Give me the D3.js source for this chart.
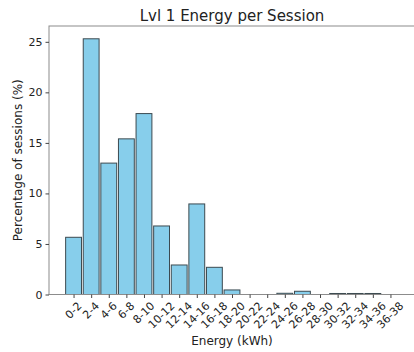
<!DOCTYPE html>
<html>
<head>
<meta charset="utf-8">
<script src="https://cdn.jsdelivr.net/npm/d3@7.9.0/dist/d3.min.js"></script>
<style>
  body { margin: 0; background: #fff; }
  svg { display: block; font-family: "DejaVu Sans", sans-serif; }
</style>
</head>
<body>
<svg width="414" height="352"></svg>
<script>
const bins = ['0-2', '2-4', '4-6', '6-8', '8-10', '10-12', '12-14', '14-16', '16-18', '18-20',
  '20-22', '22-24', '24-26', '26-28', '28-30', '30-32', '32-34', '34-36', '36-38'];
const percents = [5.66, 25.3, 13.0, 15.4, 17.9, 6.78, 2.92, 8.96, 2.69, 0.45,
  0, 0, 0.12, 0.32, 0, 0.1, 0.1, 0.1, 0];
const yTicks = [0, 5, 10, 15, 20, 25];

const svg = d3.select('svg');
const plotL = 49, plotR = 415, plotT = 26, plotB = 294.5;

// categorical x like matplotlib: bar width 0.9, 5% margins
const n = bins.length;
const lo = -0.45, hi = n - 1 + 0.45, pad = (hi - lo) * 0.05;
const x = d3.scaleLinear().domain([lo - pad, hi + pad]).range([plotL, plotR]);
const yMax = d3.max(percents) * 1.05;
const y = d3.scaleLinear().domain([0, yMax]).range([plotB, plotT]);

svg.append('g')
  .selectAll('rect')
  .data(percents)
  .join('rect')
  .attr('x', (d, i) => x(i - 0.45))
  .attr('width', x(0.9) - x(0))
  .attr('y', d => y(d))
  .attr('height', d => y(0) - y(d))
  .attr('fill', '#87ceeb')
  .attr('stroke', '#3c4a50')
  .attr('stroke-width', 1);

// spines
svg.append('rect')
  .attr('x', plotL).attr('y', plotT)
  .attr('width', plotR - plotL).attr('height', plotB - plotT)
  .attr('fill', 'none').attr('stroke', '#8c8c8c').attr('stroke-width', 1);

// y axis
const yAxis = svg.append('g').attr('transform', `translate(${plotL},0)`)
  .call(d3.axisLeft(y).tickValues(yTicks).tickSize(3.5).tickPadding(3));
yAxis.select('.domain').remove();
yAxis.selectAll('line').attr('stroke', '#444');
yAxis.selectAll('text').attr('font-size', 11).attr('fill', '#222')
  .attr('font-family', '"DejaVu Sans", sans-serif');

// x axis
const xAxis = svg.append('g').attr('transform', `translate(0,${plotB})`)
  .call(d3.axisBottom(x).tickValues(d3.range(n)).tickSize(3.5).tickFormat(''));
xAxis.select('.domain').remove();
xAxis.selectAll('line').attr('stroke', '#444');

// rotated tick labels (45deg, centred on tick like matplotlib ha=center)
const fs = 11;
bins.forEach((b, i) => {
  const t = svg.append('text')
    .attr('font-size', fs).attr('fill', '#222')
    .attr('text-anchor', 'middle')
    .attr('dominant-baseline', 'central')
    .text(b);
  const w = t.node().getComputedTextLength();
  const h = fs * 0.95;
  const cy = plotB + 3.5 + 2.5 + (w + h) * Math.SQRT1_2 / 2;
  t.attr('transform', `translate(${x(i)},${cy}) rotate(-45)`);
});

svg.append('text')
  .attr('x', (plotL + plotR) / 2).attr('y', 21)
  .attr('text-anchor', 'middle')
  .attr('font-size', 15).attr('fill', '#222')
  .text('Lvl 1 Energy per Session');

svg.append('text')
  .attr('x', (plotL + plotR) / 2).attr('y', 345)
  .attr('text-anchor', 'middle')
  .attr('font-size', 12).attr('fill', '#222')
  .text('Energy (kWh)');

svg.append('text')
  .attr('transform', `translate(22,${(plotT + plotB) / 2}) rotate(-90)`)
  .attr('text-anchor', 'middle')
  .attr('font-size', 12).attr('fill', '#222')
  .text('Percentage of sessions (%)');
</script>
</body>
</html>
